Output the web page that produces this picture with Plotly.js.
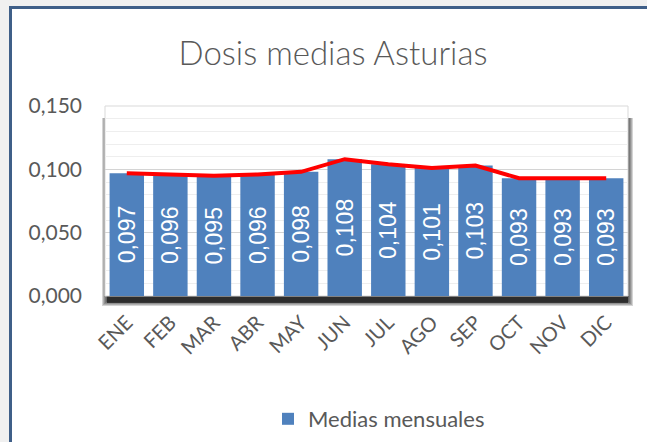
<!DOCTYPE html>
<html>
<head>
<meta charset="utf-8">
<script src="https://cdn.plot.ly/plotly-3.0.1.min.js"></script>
<style>
  html, body { margin: 0; padding: 0; background: #f0f0f0; width: 647px; height: 442px; overflow: hidden; }
  #wrap { position: absolute; left: 9px; top: 6px; width: 635px; height: 433px;
          border-top: 3px solid #3f5f88; border-left: 3px solid #3f5f88; background: #ffffff; }
  #chart { width: 635px; height: 433px; }
</style>
</head>
<body>
<div id="wrap"><div id="chart"></div></div>
<script>
// Data
const months = ["ENE", "FEB", "MAR", "ABR", "MAY", "JUN", "JUL", "AGO", "SEP", "OCT", "NOV", "DIC"];
const monthlyMeans = [0.097, 0.096, 0.095, 0.096, 0.098, 0.108, 0.104, 0.101, 0.103, 0.093, 0.093, 0.093];
const trendValues = [0.097, 0.096, 0.095, 0.096, 0.098, 0.108, 0.104, 0.101, 0.103, 0.093, 0.093, 0.093];
const yTickValues = [0, 0.05, 0.1, 0.15];

const W = 635, H = 433;
const mL = 93, mR = 19, mT = 97, mB = 146;
const PW = W - mL - mR, PH = H - mT - mB;

function pxRect(x0, x1, y0, y1, color, opacity, line) {
  // pixel offsets relative to plot area (x from left, y upward from bottom)
  return {
    type: "rect", xref: "paper", yref: "paper", layer: "below",
    x0: x0 / PW, x1: x1 / PW, y0: y0 / PH, y1: y1 / PH,
    fillcolor: color, opacity: opacity,
    line: line || { width: 0 }
  };
}

const shapes = [];
const dx = 1, dy = 6;
[4, 3, 2, 1, 0].forEach(e => {
  shapes.push(pxRect(-e + dx, PW + e + dx, -(dy + e), PH - 12, "#000000", 0.17));
});
shapes.push(pxRect(2, PW, -7, 0, "#000000", 0.55));
shapes.push(pxRect(0, PW, 0, PH, "#ffffff", 1, { color: "#d9d9d9", width: 1 }));

const barTrace = {
  type: "bar",
  x: months,
  y: monthlyMeans,
  name: "Medias mensuales",
  marker: { color: "#4f81bd" },
  texttemplate: "%{y:.3f}",
  textposition: "inside",
  insidetextanchor: "middle",
  textangle: -90,
  constraintext: "none",
  textfont: { family: "Liberation Sans, Arial, sans-serif", size: 23, color: "#ffffff" },
  hoverinfo: "skip"
};

const lineTrace = {
  type: "scatter",
  mode: "lines",
  x: months,
  y: trendValues,
  line: { color: "#ff0000", width: 4 },
  showlegend: false,
  hoverinfo: "skip"
};

const layout = {
  width: W, height: H,
  margin: { l: mL, r: mR, t: mT, b: mB, pad: 0, autoexpand: false },
  paper_bgcolor: "rgba(0,0,0,0)",
  plot_bgcolor: "#ffffff",
  separators: ",.",
  font: { family: "Lato, Calibri, sans-serif", color: "#595959" },
  title: {
    text: "Dosis medias Asturias",
    font: { family: "Lato, Calibri, sans-serif", size: 33, weight: 300, color: "#595959" },
    xref: "container", yref: "container",
    x: 321 / W, xanchor: "center",
    y: 1 - 44 / H, yanchor: "middle"
  },
  bargap: 0.21,
  xaxis: {
    type: "category",
    automargin: false,
    tickangle: -45,
    tickfont: { family: "Lato, Calibri, sans-serif", size: 20, color: "#595959" },
    showgrid: false, zeroline: false, showline: false,
    ticks: "", ticklabelstandoff: 10
  },
  yaxis: {
    automargin: false,
    range: [0, 0.15],
    tickvals: yTickValues,
    tickformat: ".3f",
    tickfont: { family: "Lato, Calibri, sans-serif", size: 21, color: "#595959" },
    showgrid: true, gridcolor: "#d4d4d4", gridwidth: 1,
    minor: { dtick: 0.01, showgrid: true, gridcolor: "#eeeeee", gridwidth: 1 },
    zeroline: false, showline: false, ticks: "",
    ticklabelstandoff: 22
  },
  showlegend: true,
  legend: {
    orientation: "h",
    x: (379 - 12 - mL) / PW, xanchor: "center",
    y: (287 - 410) / PH, yanchor: "middle",
    font: { family: "Lato, Calibri, sans-serif", size: 22, color: "#595959" },
    bgcolor: "rgba(0,0,0,0)"
  },
  shapes: shapes
};

Plotly.newPlot("chart", [barTrace, lineTrace], layout, { displayModeBar: false, staticPlot: true });
</script>
</body>
</html>
